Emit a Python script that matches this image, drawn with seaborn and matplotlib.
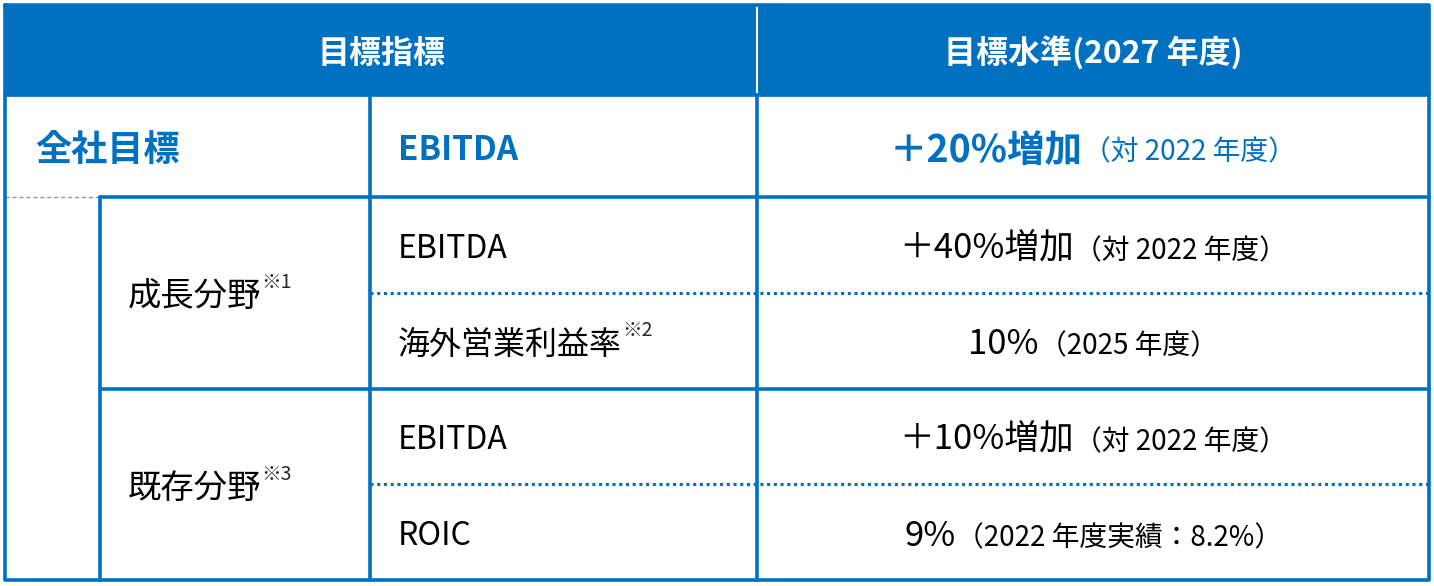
import matplotlib.pyplot as plt
import seaborn as sns
from matplotlib.patches import Rectangle

sns.set_style("white")
plt.rcParams['font.family'] = ['Noto Sans CJK JP', 'DejaVu Sans']

BLUE = '#0070C0'

headers = ['目標指標', '目標水準(2027 年度)']
groups = ['成長分野', '既存分野']
group_notes = ['※1', '※3']
metrics = ['EBITDA', '海外営業利益率', 'EBITDA', 'ROIC']
metric_notes = ['', '※2', '', '']
values_main = ['＋40%増加', '10%', '＋10%増加', '9%']
values_sub = ['（対 2022 年度）', '（2025 年度）', '（対 2022 年度）', '（2022 年度実績：8.2%）']
total_label = '全社目標'
total_metric = 'EBITDA'
total_main = '＋20%増加'
total_sub = '（対 2022 年度）'

# layout in pixels
L, R, T, B = 5, 1429, 5, 580
x_sub, x_c2, x_c3 = 100, 370, 757
y_head, y_tot = 95, 197
row_h = (B - y_tot) / 4
DY = 4  # CJK font sits a bit high with va='center'

fig = plt.figure(figsize=(14.34, 5.86), dpi=100)
ax = fig.add_axes([0, 0, 1, 1])
ax.set_xlim(0, 1434)
ax.set_ylim(586, 0)
ax.axis('off')

ax.add_patch(Rectangle((L, T), R - L, y_head - T, color=BLUE, zorder=1))
ax.plot([x_c3, x_c3], [T, y_head], color='white', lw=1.5, zorder=2)

lw = 2.6
ax.plot([L, R, R, L, L], [T, T, B, B, T], color=BLUE, lw=lw, zorder=3)
ax.plot([L, R], [y_head, y_head], color=BLUE, lw=lw)
ax.plot([x_c2, x_c2], [y_head, B], color=BLUE, lw=lw)
ax.plot([x_c3, x_c3], [y_head, B], color=BLUE, lw=lw)
ax.plot([x_sub, R], [y_tot, y_tot], color=BLUE, lw=lw)
ax.plot([L, x_sub], [y_tot, y_tot], color='#999999', lw=1, ls=(0, (3, 2)))
ax.plot([x_sub, x_sub], [y_tot, B], color=BLUE, lw=lw)
ax.plot([x_sub, R], [y_tot + 2 * row_h] * 2, color=BLUE, lw=lw)
for k in (1, 3):
    ax.plot([x_c2, R], [y_tot + k * row_h] * 2, color=BLUE, lw=2.2, ls=(0, (1, 1.2)))

# headers
ax.text((L + x_c3) / 2, (T + y_head) / 2 + DY, headers[0], color='white', fontsize=23,
        fontweight='bold', ha='center', va='center')
ax.text((x_c3 + R) / 2, (T + y_head) / 2 + DY, headers[1], color='white', fontsize=23,
        fontweight='bold', ha='center', va='center')

fig.canvas.draw()
renderer = fig.canvas.get_renderer()


def width_px(t):
    return t.get_window_extent(renderer).width


def two_part(cx, cy, main, sub, color, msize, ssize, mweight):
    t1 = ax.text(0, cy + DY, main, color=color, fontsize=msize, fontweight=mweight,
                 ha='left', va='center')
    t2 = ax.text(0, cy + DY + 2, sub, color=color, fontsize=ssize, ha='left', va='center')
    w1, w2 = width_px(t1), width_px(t2)
    x0 = cx - (w1 + w2) / 2
    t1.set_x(x0)
    t2.set_x(x0 + w1)


def with_note(x, cy, label, note, size):
    t = ax.text(x, cy + DY, label, fontsize=size, ha='left', va='center', color='black')
    if note:
        w = width_px(t)
        ax.text(x + w, cy - 10, note, fontsize=14, ha='left', va='center')


# total row
cy = (y_head + y_tot) / 2
ax.text(35, cy + DY, total_label, color=BLUE, fontsize=26, fontweight='bold', va='center')
ax.text(398, cy + DY, total_metric, color=BLUE, fontsize=24, fontweight='bold', va='center')
two_part((x_c3 + R) / 2, cy, total_main, total_sub, BLUE, 27, 20, 'bold')

for g in range(2):
    gy = y_tot + (2 * g + 1) * row_h
    with_note(128, gy, groups[g], group_notes[g], 24)

for i in range(4):
    ry = y_tot + (i + 0.5) * row_h
    with_note(398, ry, metrics[i], metric_notes[i], 23)
    two_part((x_c3 + R) / 2, ry, values_main[i], values_sub[i], 'black', 25, 20, 'normal')

fig.savefig('out.png', dpi=100)
